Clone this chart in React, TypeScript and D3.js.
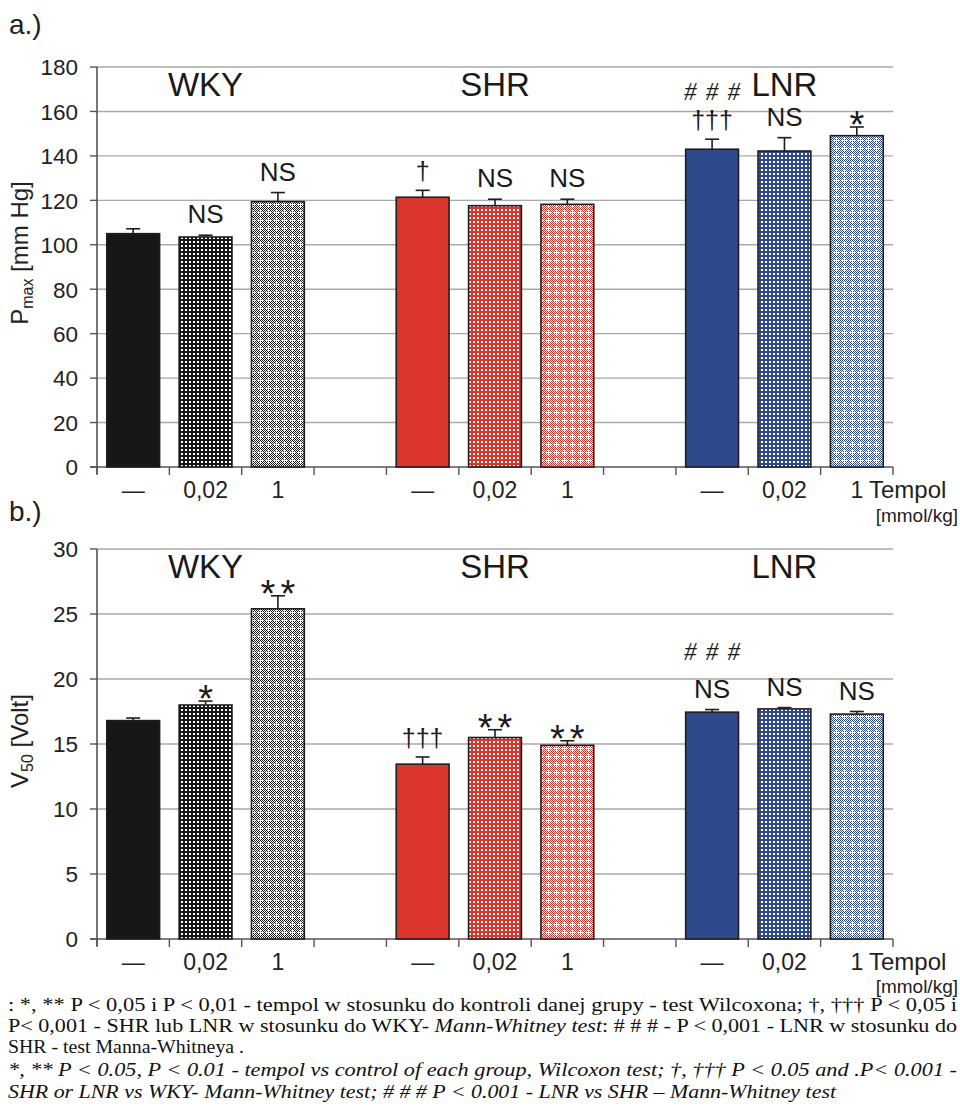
import React from "react";
import * as d3 from "d3";

// ---- data -------------------------------------------------------------
const GROUPS = ["WKY", "SHR", "LNR"];
const DOSES = ["—", "0,02", "1"];

// Panel a: Pmax [mm Hg], mean and SEM per group × dose
const PMAX_MEAN = [105.0, 103.5, 119.4, 121.4, 117.6, 118.2, 143.0, 142.2, 149.1];
const PMAX_ERR = [2.2, 0.8, 4.1, 3.1, 2.9, 2.3, 4.5, 6.0, 3.9];
const PMAX_MARKS = [[], ["NS"], ["NS"], ["†"], ["NS"], ["NS"], ["†††", "# # #"], ["NS"], ["*"]];
const PMAX_TICKS = [0, 20, 40, 60, 80, 100, 120, 140, 160, 180];

// Panel b: V50 [Volt], mean and SEM per group × dose
const V50_MEAN = [16.8, 18.0, 25.4, 13.45, 15.5, 14.9, 17.45, 17.7, 17.3];
const V50_ERR = [0.2, 0.3, 1.0, 0.55, 0.6, 0.35, 0.2, 0.1, 0.2];
const V50_MARKS = [[], ["*"], ["**"], ["†††"], ["**"], ["**"], ["NS", "# # #"], ["NS"], ["NS"]];
const V50_TICKS = [0, 5, 10, 15, 20, 25, 30];

const GROUP_COLORS = ["#171717", "#db352e", "#2e4a8c"];

const FOOT_PL_1 =
  ": *,  **  P < 0,05 i P < 0,01 - tempol w stosunku do kontroli danej grupy - test Wilcoxona; †,  ††† P < 0,05 i";
const FOOT_PL_2A = "P< 0,001 - SHR lub LNR  w stosunku do WKY- ";
const FOOT_PL_2B = "Mann-Whitney test";
const FOOT_PL_2C = ": # # #  - P < 0,001 - LNR w stosunku do";
const FOOT_PL_3 = "SHR - test Manna-Whitneya .";
const FOOT_EN_1 =
  "*,  **  P < 0.05,  P < 0.01 - tempol vs control of each group, Wilcoxon test;  †,  ††† P < 0.05 and .P< 0.001 -";
const FOOT_EN_2 = "SHR or LNR  vs  WKY- Mann-Whitney test;  # # #  P < 0.001 - LNR vs SHR – Mann-Whitney test";

// ---- layout -----------------------------------------------------------
const W = 960;
const H = 1118;
const X0 = 97;
const X1 = 893;
const SANS = "'Liberation Sans', Arial, sans-serif";
const SERIF = "'Liberation Serif', 'Times New Roman', serif";

// 11 slots: three bars per group, one empty slot between groups
const SLOTS: string[] = [];
GROUPS.forEach((g, gi) => {
  DOSES.forEach((_, di) => SLOTS.push(`${g}-${di}`));
  if (gi < GROUPS.length - 1) SLOTS.push(`gap-${gi}`);
});

const x = d3.scaleBand<string>().domain(SLOTS).range([X0, X1]).paddingInner(0.27).paddingOuter(0.135);
const barKey = (i: number) => `${GROUPS[Math.floor(i / 3)]}-${i % 3}`;
const cx = (key: string) => (x(key) as number) + x.bandwidth() / 2;

function fillFor(i: number) {
  const g = Math.floor(i / 3);
  const d = i % 3;
  if (d === 0) return GROUP_COLORS[g];
  return d === 1 ? `url(#dots-${g})` : `url(#check-${g})`;
}

function Patterns() {
  return (
    <defs>
      {GROUP_COLORS.map((c, g) => (
        <React.Fragment key={g}>
          <pattern id={`dots-${g}`} patternUnits="userSpaceOnUse" width={4} height={4}>
            <rect width={4} height={4} fill={c} />
            <rect x={1} y={1} width={2} height={2} fill="#ffffff" />
          </pattern>
          <pattern id={`chk2-${g}`} patternUnits="userSpaceOnUse" width={2} height={2}>
            <rect width={2} height={2} fill="#ffffff" />
            <rect x={0} y={0} width={1} height={1} fill={c} />
            <rect x={1} y={1} width={1} height={1} fill={c} />
          </pattern>
          <pattern id={`check-${g}`} patternUnits="userSpaceOnUse" width={8} height={8}>
            <rect width={8} height={8} fill={`url(#chk2-${g})`} />
            <rect x={4} y={2} width={1} height={5} fill="#ffffff" />
            <rect x={2} y={4} width={5} height={1} fill="#ffffff" />
          </pattern>
        </React.Fragment>
      ))}
    </defs>
  );
}

type Mark = { text: string; x: number; y: number; size: number; family: string; italic?: boolean; spacing?: number };

// stack significance marks above each error bar, bottom to top
function layoutMarks(marks: string[][], mean: number[], err: number[], y: d3.ScaleLinear<number, number>): Mark[] {
  const out: Mark[] = [];
  marks.forEach((list, i) => {
    const mx = cx(barKey(i));
    let bottom = y(mean[i] + err[i]);
    list.forEach((t) => {
      if (t === "NS") {
        const base = bottom - 12;
        out.push({ text: t, x: mx, y: base, size: 26, family: SANS });
        bottom = base - 20 - 16;
      } else if (t.startsWith("†")) {
        const gb = bottom - 6;
        const base = gb - 4;
        out.push({ text: t, x: mx, y: base, size: 25, family: SANS });
        bottom = base - 27;
      } else if (t.startsWith("*")) {
        const gb = bottom - 5;
        out.push({ text: t, x: mx, y: gb + 16, size: 38, family: SANS, spacing: 5 });
        bottom = gb - 12;
      } else {
        const base = bottom - 2;
        out.push({ text: t, x: mx, y: base, size: 25, family: SERIF, italic: true, spacing: 1.5 });
        bottom = base - 18;
      }
    });
  });
  return out;
}

type PanelProps = {
  mean: number[];
  err: number[];
  marks: string[][];
  ticks: number[];
  top: number;
  bottom: number;
  tag: string;
  tagY: number;
  unitY: number;
  yLabelMain: string;
  yLabelSub: string;
  yLabelRest: string;
  yLabelCenter: number;
};

function Panel(p: PanelProps) {
  const yMax = p.ticks[p.ticks.length - 1];
  const y = d3.scaleLinear().domain([0, yMax]).range([p.bottom, p.top]);
  const step = x.step();
  const boundaries = d3.range(SLOTS.length + 1).map((i) => X0 + i * step);
  const marks = layoutMarks(p.marks, p.mean, p.err, y);
  const axisColor = "#555555";
  const gridColor = "#a9a9a9";

  return (
    <g>
      <text x={9} y={p.tagY} fontFamily={SANS} fontSize={28} fill="#222">
        {p.tag}
      </text>

      {/* gridlines and y ticks */}
      {p.ticks.map((t) => (
        <g key={t}>
          {t > 0 && <line x1={X0} x2={X1} y1={y(t)} y2={y(t)} stroke={gridColor} strokeWidth={1.4} />}
          <line x1={X0 - 7} x2={X0} y1={y(t)} y2={y(t)} stroke={axisColor} strokeWidth={1.4} />
          <text
            x={78}
            y={y(t)}
            dy="0.37em"
            textAnchor="end"
            fontFamily={SANS}
            fontSize={22.5}
            fill="#222"
          >
            {t}
          </text>
        </g>
      ))}

      {/* axes */}
      <line x1={X0} x2={X0} y1={p.top} y2={p.bottom + 7} stroke={axisColor} strokeWidth={1.6} />
      <line x1={X0 - 7} x2={X1} y1={p.bottom} y2={p.bottom} stroke={axisColor} strokeWidth={1.6} />
      {boundaries.map((bx, i) => (
        <line key={i} x1={bx} x2={bx} y1={p.bottom} y2={p.bottom + 8} stroke={axisColor} strokeWidth={1.4} />
      ))}

      {/* bars */}
      {p.mean.map((m, i) => {
        const key = barKey(i);
        const bx = x(key) as number;
        return (
          <rect
            key={key}
            x={bx}
            width={x.bandwidth()}
            y={y(m)}
            height={p.bottom - y(m)}
            fill={fillFor(i)}
            stroke="#1e1e1e"
            strokeWidth={1.6}
          />
        );
      })}

      {/* error bars */}
      {p.mean.map((m, i) => {
        const mx = cx(barKey(i));
        const yt = y(m + p.err[i]);
        return (
          <g key={i} stroke="#1e1e1e" strokeWidth={1.6}>
            <line x1={mx} x2={mx} y1={y(m)} y2={yt} />
            <line x1={mx - 7} x2={mx + 7} y1={yt} y2={yt} />
          </g>
        );
      })}

      {/* group names */}
      {GROUPS.map((g) => (
        <text
          key={g}
          x={cx(`${g}-1`)}
          y={p.top + 29}
          textAnchor="middle"
          fontFamily={SANS}
          fontSize={33}
          fill="#1a1a1a"
        >
          {g}
        </text>
      ))}

      {/* significance marks */}
      {marks.map((mk, i) => (
        <text
          key={i}
          x={mk.x + (mk.spacing ?? 0) / 2}
          y={mk.y}
          textAnchor="middle"
          fontFamily={mk.family}
          fontStyle={mk.italic ? "italic" : "normal"}
          fontSize={mk.size}
          letterSpacing={mk.spacing ?? 0}
          fill="#1a1a1a"
          style={{ whiteSpace: "pre" }}
        >
          {mk.text}
        </text>
      ))}

      {/* dose labels */}
      {p.mean.map((_, i) => (
        <text
          key={i}
          x={cx(barKey(i))}
          y={p.bottom + 31}
          textAnchor="middle"
          fontFamily={SANS}
          fontSize={23}
          fill="#222"
        >
          {DOSES[i % 3]}
        </text>
      ))}
      <text x={869} y={p.bottom + 31} fontFamily={SANS} fontSize={24} fill="#222">
        Tempol
      </text>
      <text x={958} y={p.unitY} textAnchor="end" fontFamily={SANS} fontSize={19} fill="#222">
        [mmol/kg]
      </text>

      {/* y-axis title */}
      <text
        transform={`translate(28,${p.yLabelCenter}) rotate(-90)`}
        textAnchor="middle"
        fontFamily={SANS}
        fontSize={24}
        fill="#222"
        style={{ whiteSpace: "pre" }}
      >
        {p.yLabelMain}
        <tspan fontSize={16} dy={5}>
          {p.yLabelSub}
        </tspan>
        <tspan dy={-5}>{p.yLabelRest}</tspan>
      </text>
    </g>
  );
}

export default function App() {
  return (
    <svg
      width={W}
      height={H}
      viewBox={`0 0 ${W} ${H}`}
      style={{ position: "absolute", left: 0, top: 0, background: "#ffffff" }}
    >
      <Patterns />
      <rect width={W} height={H} fill="#ffffff" />
      <Panel
        mean={PMAX_MEAN}
        err={PMAX_ERR}
        marks={PMAX_MARKS}
        ticks={PMAX_TICKS}
        top={67}
        bottom={467}
        tag="a.)"
        tagY={34}
        unitY={522}
        yLabelMain="P"
        yLabelSub="max"
        yLabelRest=" [mm Hg]"
        yLabelCenter={253}
      />
      <Panel
        mean={V50_MEAN}
        err={V50_ERR}
        marks={V50_MARKS}
        ticks={V50_TICKS}
        top={549}
        bottom={939}
        tag="b.)"
        tagY={521}
        unitY={993}
        yLabelMain="V"
        yLabelSub="50"
        yLabelRest=" [Volt]"
        yLabelCenter={741}
      />

      {/* footnotes */}
      <g fontFamily={SERIF} fontSize={18} fill="#111" style={{ whiteSpace: "pre" }}>
        <text x={8} y={1011} textLength={949} lengthAdjust="spacingAndGlyphs">
          {FOOT_PL_1}
        </text>
        <text x={8} y={1032} textLength={949} lengthAdjust="spacingAndGlyphs">
          {FOOT_PL_2A}
          <tspan fontStyle="italic">{FOOT_PL_2B}</tspan>
          {FOOT_PL_2C}
        </text>
        <text x={8} y={1053} textLength={236} lengthAdjust="spacingAndGlyphs">
          {FOOT_PL_3}
        </text>
        <text x={8} y={1076} fontStyle="italic" textLength={949} lengthAdjust="spacingAndGlyphs">
          {FOOT_EN_1}
        </text>
        <text x={8} y={1098} fontStyle="italic" textLength={828} lengthAdjust="spacingAndGlyphs">
          {FOOT_EN_2}
        </text>
      </g>
    </svg>
  );
}
